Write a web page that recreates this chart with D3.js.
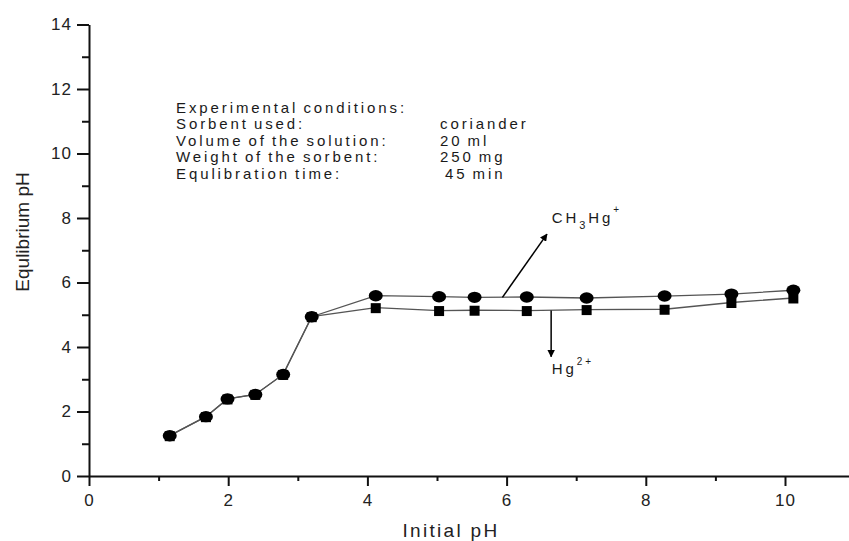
<!DOCTYPE html>
<html lang="en">
<head>
<meta charset="UTF-8">
<title>Equilibrium pH vs initial pH</title>
<script src="https://d3js.org/d3.v7.min.js"></script>
<style>
    body { margin: 0; background: #fff; }
    svg { display: block; font-family: Arial, "Liberation Sans", sans-serif; }
    .note { font-size: 15px; fill: #1a1a1a; letter-spacing: 2.9px; word-spacing: -2px; }
</style>
</head>
<body>
<div id="chart"></div>
<script>
// data
const initialPH = [1.16, 1.68, 1.99, 2.39, 2.79, 3.20, 4.12, 5.03, 5.54, 6.29, 7.15, 8.27, 9.23, 10.12];
const ch3hgPH  = [1.25, 1.84, 2.39, 2.53, 3.15, 4.94, 5.59, 5.56, 5.54, 5.55, 5.52, 5.58, 5.64, 5.76];
const hg2PH    = [1.25, 1.84, 2.39, 2.53, 3.15, 4.94, 5.22, 5.13, 5.14, 5.13, 5.16, 5.17, 5.38, 5.52];

const xTicks = [0, 2, 4, 6, 8, 10];
const xMinor = [1, 3, 5, 7, 9];
const yTicks = [0, 2, 4, 6, 8, 10, 12, 14];
const yMinor = [1, 3, 5, 7, 9, 11, 13];

const conditionLabels = ["Experimental conditions:", "Sorbent used:", "Volume of the solution:", "Weight of the sorbent:", "Equlibration time:"];
const conditionValues = ["", "coriander", "20 ml", "250 mg", " 45 min"];

const W = 849, H = 541;
const svg = d3.select("#chart").append("svg").attr("width", W).attr("height", H);

const x = d3.scaleLinear().domain([0, 11]).range([89, 854.6]);
const y = d3.scaleLinear().domain([0, 14]).range([476, 24.5]);

// axes
svg.append("g").attr("transform", `translate(0,${y(0)})`)
    .call(d3.axisBottom(x).tickValues(xTicks).tickSize(10).tickPadding(8).tickSizeOuter(0));
svg.append("g").attr("transform", `translate(0,${y(0)})`)
    .call(d3.axisBottom(x).tickValues(xMinor).tickSize(5).tickFormat("").tickSizeOuter(0))
    .select(".domain").remove();
svg.append("g").attr("transform", `translate(${x(0)},0)`)
    .call(d3.axisLeft(y).tickValues(yTicks).tickSize(12).tickPadding(5).tickSizeOuter(0));
svg.append("g").attr("transform", `translate(${x(0)},0)`)
    .call(d3.axisLeft(y).tickValues(yMinor).tickSize(7).tickFormat("").tickSizeOuter(0))
    .select(".domain").remove();
svg.selectAll(".domain, .tick line").attr("stroke", "#111").attr("stroke-width", 2);
svg.selectAll(".tick text")
    .attr("font-size", 17)
    .style("font-size", "17px")
    .style("letter-spacing", "1px")
    .attr("fill", "#222");

// axis titles
svg.append("text")
    .attr("x", 451).attr("y", 537)
    .attr("text-anchor", "middle")
    .style("font-size", "19px").style("letter-spacing", "2.3px").attr("fill", "#222")
    .text("Initial pH");
svg.append("text")
    .attr("transform", "translate(29,232) rotate(-90)")
    .attr("text-anchor", "middle")
    .style("font-size", "19px").attr("fill", "#222")
    .text("Equlibrium pH");

// series
const ptsA = initialPH.map((v, i) => [v, ch3hgPH[i]]);
const ptsB = initialPH.map((v, i) => [v, hg2PH[i]]);
const line = d3.line().x(d => x(d[0])).y(d => y(d[1]));

[ptsA, ptsB].forEach(p => {
    svg.append("path").datum(p)
        .attr("d", line)
        .attr("fill", "none")
        .attr("stroke", "#555")
        .attr("stroke-width", 1.3);
});

svg.selectAll(".sq").data(ptsB).enter().append("rect")
    .attr("class", "sq")
    .attr("x", d => x(d[0]) - 5).attr("y", d => y(d[1]) - 4.5)
    .attr("width", 10).attr("height", 10)
    .attr("fill", "#000");
svg.selectAll(".ci").data(ptsA).enter().append("ellipse")
    .attr("class", "ci")
    .attr("cx", d => x(d[0])).attr("cy", d => y(d[1]))
    .attr("rx", 7).attr("ry", 5.7)
    .attr("fill", "#000");

// arrows
const defs = svg.append("defs");
defs.append("marker")
    .attr("id", "head").attr("viewBox", "0 0 10 10")
    .attr("refX", 9).attr("refY", 5)
    .attr("markerWidth", 5).attr("markerHeight", 5)
    .attr("orient", "auto")
    .append("path").attr("d", "M0,0L10,5L0,10z").attr("fill", "#000");

const arrows = [
    { from: [5.94, 5.54], to: [6.58, 7.50] },
    { from: [6.64, 5.13], to: [6.64, 3.70] }
];
arrows.forEach(a => {
    svg.append("line")
        .attr("x1", x(a.from[0])).attr("y1", y(a.from[1]))
        .attr("x2", x(a.to[0])).attr("y2", y(a.to[1]))
        .attr("stroke", "#000").attr("stroke-width", 1.5)
        .attr("marker-end", "url(#head)");
});

// species labels
const lab1 = svg.append("text").attr("class", "note")
    .attr("x", x(6.65)).attr("y", y(7.84));
lab1.append("tspan").text("CH");
lab1.append("tspan").attr("dy", 6).style("font-size", "11px").text("3");
lab1.append("tspan").attr("dy", -6).text("Hg");
lab1.append("tspan").attr("dy", -10).style("font-size", "10px").text("+");

const lab2 = svg.append("text").attr("class", "note")
    .attr("x", x(6.65)).attr("y", y(3.17));
lab2.append("tspan").text("Hg");
lab2.append("tspan").attr("dy", -9).style("font-size", "10px").text("2+");

// experimental conditions block
const block = svg.append("g");
conditionLabels.forEach((t, i) => {
    block.append("text").attr("class", "note")
        .attr("x", 176).attr("y", 113 + i * 16.4)
        .attr("xml:space", "preserve")
        .text(t);
    if (conditionValues[i]) {
        block.append("text").attr("class", "note")
            .attr("x", 440).attr("y", 113 + i * 16.4)
            .attr("xml:space", "preserve")
            .text(conditionValues[i]);
    }
});
</script>
</body>
</html>
